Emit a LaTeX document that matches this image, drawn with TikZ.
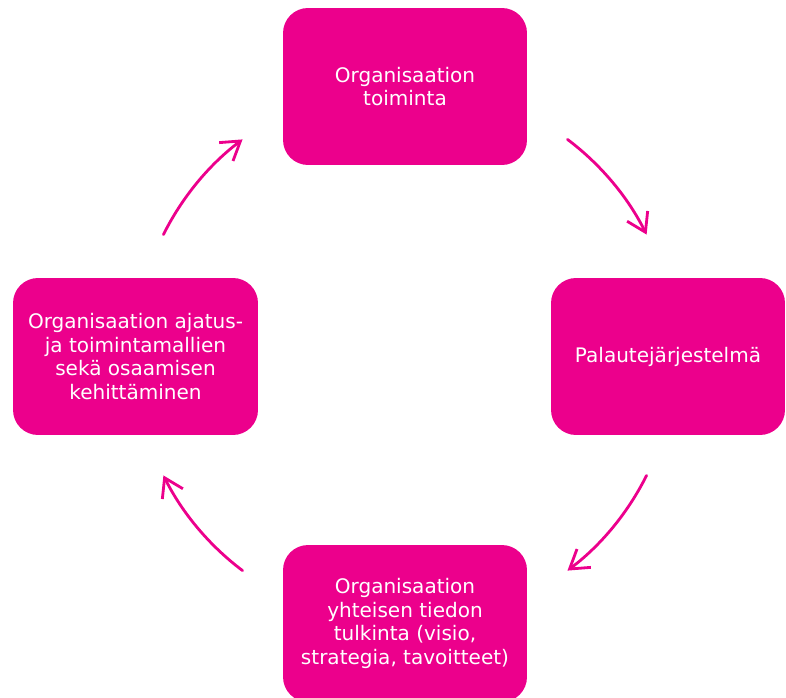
\documentclass[tikz,border=0pt]{standalone}
\usepackage{fontspec}
\setmainfont{DejaVu Sans}
\usetikzlibrary{arrows.meta}
\definecolor{orgpink}{RGB}{236,0,140}

\begin{document}
\begin{tikzpicture}[x=0.02cm, y=0.02cm,
  every node/.style={font=\fontsize{11.4}{13.4}\selectfont},
  box/.style={fill=orgpink, text=white, rounded corners=0.5cm, inner sep=0pt,
    minimum width=4.88cm, minimum height=3.14cm, align=center},
  flow/.style={draw=orgpink, line width=1.6pt, line cap=round,
    -{Straight Barb[length=3.6mm,width=4.6mm,line width=1.6pt]}}]
\path[use as bounding box, clip] (0,0) rectangle (786,697);

\node[box] (toim) at (405,610.5) {Organisaation\\toiminta};
\node[box, minimum width=4.68cm] (pal) at (668,340.5) {Palautejärjestelmä};
\node[box] (tulk) at (405,73.5) {Organisaation\\yhteisen tiedon\\tulkinta (visio,\\strategia, tavoitteet)};
\node[box, minimum width=4.9cm] (keh) at (135.5,340.5) {Organisaation ajatus-\\ja toimintamallien\\sekä osaamisen\\kehittäminen};

% kehä
\coordinate (mid) at (405,342);
\draw[flow] ([shift={(53:5.4cm)}]mid) arc[start angle=53, end angle=26.5, radius=5.4cm];
\draw[flow] ([shift={(-26.5:5.4cm)}]mid) arc[start angle=-26.5, end angle=-53, radius=5.4cm];
\draw[flow] ([shift={(233:5.4cm)}]mid) arc[start angle=233, end angle=206.5, radius=5.4cm];
\draw[flow] ([shift={(153.5:5.4cm)}]mid) arc[start angle=153.5, end angle=127, radius=5.4cm];
\end{tikzpicture}
\end{document}
